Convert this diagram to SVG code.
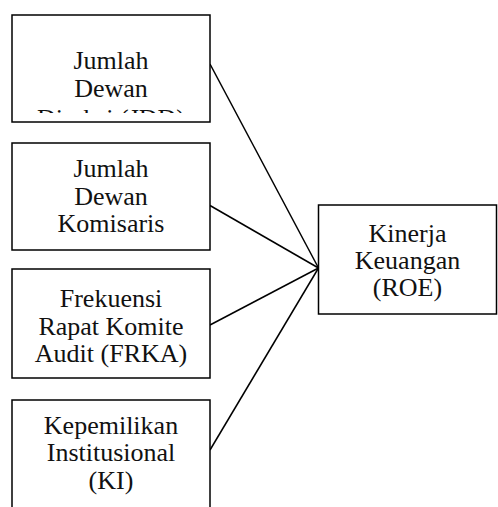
<svg xmlns="http://www.w3.org/2000/svg" width="498" height="507" viewBox="0 0 498 507">
<style>
.box{fill:#fff;stroke:#000;stroke-width:1.5}
.ln{stroke:#000;stroke-width:1.5;fill:none}
text{font-family:"Liberation Serif","Times New Roman",serif;font-size:26px;fill:#111;text-anchor:middle}
</style>
<defs>
<clipPath id="c1"><rect x="13" y="16" width="196" height="97"/></clipPath>
</defs>
<rect width="498" height="507" fill="#fff"/>
<g id="connectors">
<line class="ln" x1="210" y1="64" x2="318.5" y2="268"/>
<line class="ln" x1="210" y1="205.5" x2="318.5" y2="268"/>
<line class="ln" x1="210" y1="325" x2="318.5" y2="268"/>
<line class="ln" x1="210" y1="450" x2="318.5" y2="268"/>
</g>
<g id="jdd">
<rect class="box" x="12" y="15" width="198" height="107"/>
<g clip-path="url(#c1)">
<text x="111" y="69">Jumlah</text>
<text x="111" y="97">Dewan</text>
<text x="111" y="127">Direksi (JDD)</text>
</g>
</g>
<g id="jdk">
<rect class="box" x="12" y="143" width="198" height="107"/>
<text x="111" y="177">Jumlah</text>
<text x="111" y="204.5">Dewan</text>
<text x="111" y="232">Komisaris</text>
</g>
<g id="frka">
<rect class="box" x="12" y="269" width="198" height="109"/>
<text x="111" y="307">Frekuensi</text>
<text x="111" y="334.5">Rapat Komite</text>
<text x="111" y="362">Audit (FRKA)</text>
</g>
<g id="ki">
<rect class="box" x="12" y="400" width="198" height="120"/>
<text x="111" y="433.5">Kepemilikan</text>
<text x="111" y="461">Institusional</text>
<text x="111" y="488.5">(KI)</text>
</g>
<g id="roe">
<rect class="box" x="318.5" y="205" width="178" height="109"/>
<text x="407.5" y="242">Kinerja</text>
<text x="407.5" y="268.5">Keuangan</text>
<text x="407.5" y="295.5">(ROE)</text>
</g>
</svg>
